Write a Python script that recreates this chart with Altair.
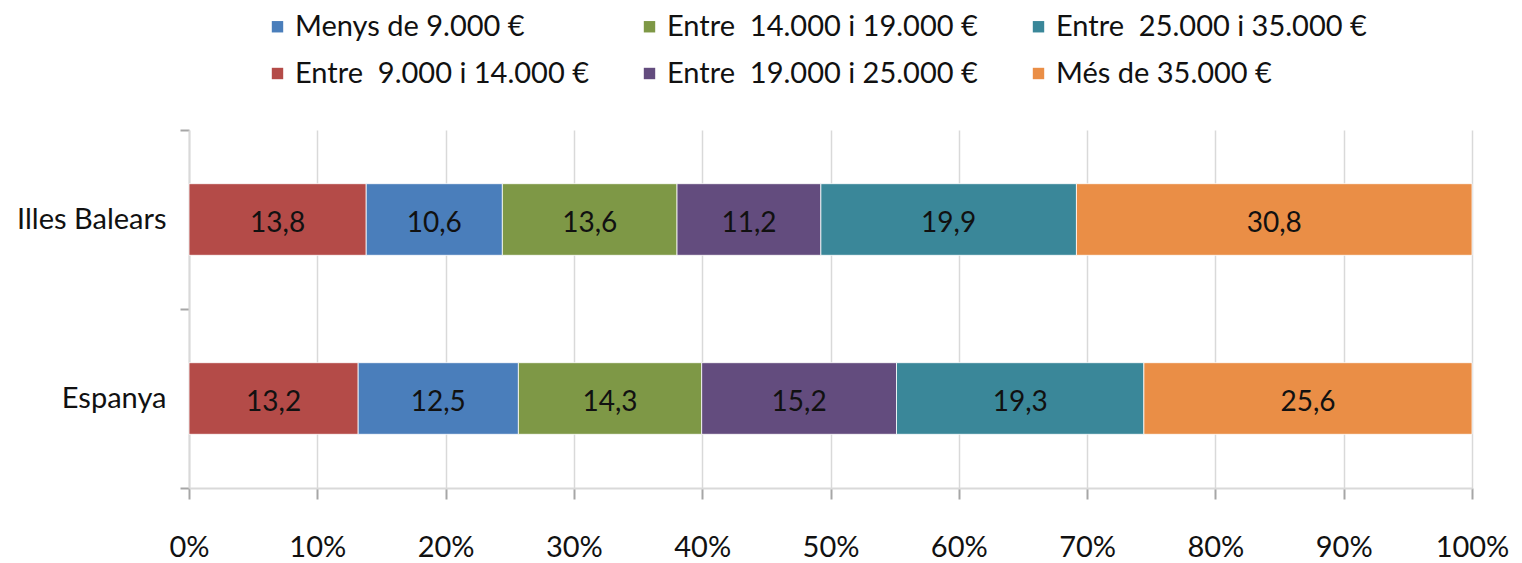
import altair as alt
import pandas as pd

regions = ["Illes Balears", "Espanya"]
# stacking order (left to right)
groups = [
    "Entre\u00a0 9.000 i 14.000 €",
    "Menys de 9.000 €",
    "Entre\u00a0 14.000 i 19.000 €",
    "Entre\u00a0 19.000 i 25.000 €",
    "Entre\u00a0 25.000 i 35.000 €",
    "Més de 35.000 €",
]
balears = [13.8, 10.6, 13.6, 11.2, 19.9, 30.8]
espanya = [13.2, 12.5, 14.3, 15.2, 19.3, 25.6]
colors = ["#B44B48", "#4A7EBB", "#7E9846", "#634C7E", "#3A8799", "#EA8E46"]
# legend (filled column by column)
legend_order = [groups[1], groups[0], groups[2], groups[3], groups[4], groups[5]]
legend_colors = [colors[groups.index(g)] for g in legend_order]
x_ticks = [i / 10 for i in range(11)]

rows = []
for region, vals in zip(regions, [balears, espanya]):
    for i, (g, v) in enumerate(zip(groups, vals)):
        rows.append({"region": region, "group": g, "ord": i, "value": v,
                     "label": f"{v:.1f}".replace(".", ",")})
df = pd.DataFrame(rows)

FONT = "Lato"
FS = 29

base = alt.Chart(df).transform_stack(
    stack="value", groupby=["region"], as_=["x0", "x1"], offset="normalize",
    sort=[alt.SortField("ord", order="ascending")]
).transform_calculate(mid="(datum.x0 + datum.x1) / 2")

yenc = alt.Y("region:N", sort=regions, title=None,
             scale=alt.Scale(paddingInner=0, paddingOuter=0),
             axis=alt.Axis(tickBand="extent", labelFontSize=FS, labelFont=FONT,
                           labelColor="#111111", labelPadding=14, tickSize=9,
                           tickColor="#A6A6A6", tickWidth=2, domainColor="#D9D9D9",
                           domainWidth=2, grid=False))

bars = base.mark_bar(stroke="#ffffff", strokeWidth=0.8,
                     height=alt.RelativeBandSize(0.4)).encode(
    x=alt.X("x0:Q", scale=alt.Scale(domain=[0, 1]), title=None,
            axis=alt.Axis(values=x_ticks, format=".0%", labelFontSize=FS, labelFont=FONT,
                          labelColor="#111111", labelPadding=34, tickSize=11,
                          tickColor="#A6A6A6", tickWidth=2, domainColor="#D9D9D9",
                          domainWidth=2, grid=True, gridColor="#D9D9D9", gridWidth=1.5,
                          labelFlush=False)),
    x2="x1:Q",
    y=yenc,
    color=alt.Color("group:N", scale=alt.Scale(domain=legend_order, range=legend_colors),
                    title=None,
                    legend=alt.Legend(orient="none", legendX=74, legendY=-118, columns=3,
                                      symbolType="square", symbolSize=130,
                                      symbolStrokeWidth=0, labelFontSize=FS,
                                      labelFont=FONT, labelColor="#111111",
                                      labelOffset=3, columnPadding=46, rowPadding=17,
                                      labelLimit=400)),
)

texts = base.mark_text(fontSize=28, font=FONT, color="#111111", dy=4).encode(
    x=alt.X("mid:Q"),
    y=alt.Y("region:N", sort=regions),
    text="label:N",
)

chart = alt.layer(bars, texts).properties(
    width=1283, height=358,
    autosize=alt.AutoSizeParams(type="none"),
    padding={"left": 181, "top": 122, "right": 38, "bottom": 85},
).configure_view(stroke=None)

chart.save("out.html", embed_options={"renderer": "svg", "actions": False})
